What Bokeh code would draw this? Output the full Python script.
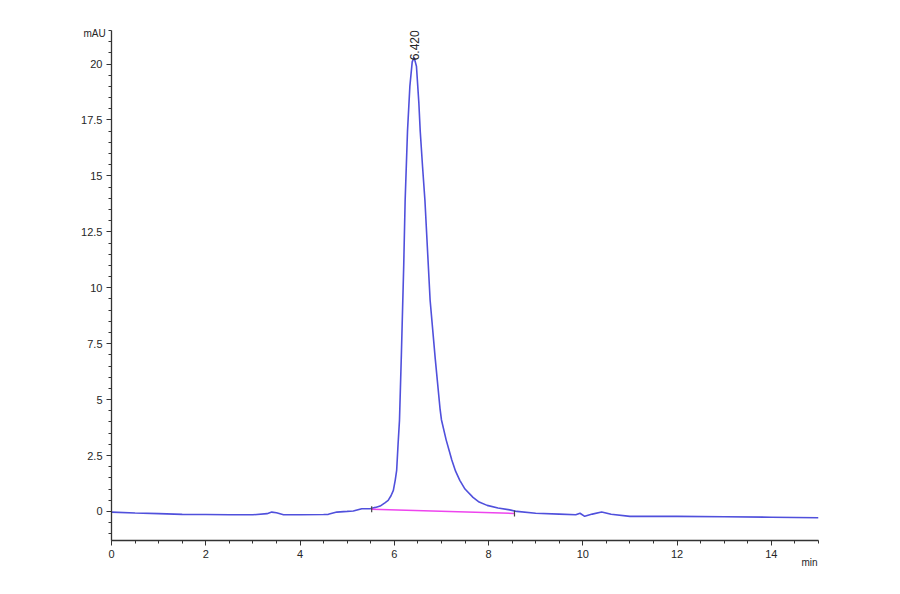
import math
from bokeh.plotting import figure
from bokeh.models import FixedTicker, Label, ColumnDataSource, Title
from bokeh.embed import file_html
from bokeh.resources import INLINE

# ---- data ----
time_min = [0.0, 0.5, 1.0, 1.5, 2.0, 2.5, 3.0, 3.3, 3.4, 3.5, 3.65, 4.0, 4.5, 4.6,
            4.78, 5.0, 5.13, 5.31, 5.49, 5.6, 5.7, 5.8, 5.87, 5.93, 5.98, 6.02,
            6.05, 6.08, 6.11, 6.15, 6.2, 6.23, 6.28, 6.33, 6.38, 6.42, 6.47, 6.52,
            6.55, 6.6, 6.65, 6.76, 6.87, 6.97, 7.0, 7.1, 7.18, 7.22, 7.3, 7.39,
            7.5, 7.67, 7.8, 7.97, 8.2, 8.45, 8.6, 9.0, 9.5, 9.85, 9.94, 10.04,
            10.2, 10.4, 10.6, 11.0, 12.0, 13.0, 14.0, 15.0]
signal_mau = [-0.03, -0.07, -0.10, -0.13, -0.14, -0.15, -0.15, -0.10, -0.03, -0.06, -0.15, -0.15, -0.14, -0.13,
              -0.03, 0.0, 0.02, 0.12, 0.12, 0.18, 0.24, 0.38, 0.49, 0.7, 0.94, 1.4,
              1.83, 3.0, 4.07, 7.0, 11.0, 13.9, 17.0, 19.0, 20.1, 20.3, 19.9, 18.3,
              17.0, 15.4, 13.9, 9.44, 6.8, 4.6, 4.1, 3.2, 2.6, 2.3, 1.8, 1.39,
              1.0, 0.63, 0.42, 0.27, 0.15, 0.07, 0.0, -0.08, -0.12, -0.15, -0.08, -0.22,
              -0.12, -0.03, -0.13, -0.22, -0.22, -0.24, -0.26, -0.28]

baseline_t = [5.52, 8.55]
baseline_v = [0.10, -0.09]

peak_t = [6.42]
peak_v = [20.3]
peak_text = ["6.420"]

x_ticks = [0, 2, 4, 6, 8, 10, 12, 14]
x_tick_labels = ["0", "2", "4", "6", "8", "10", "12", "14"]
y_ticks = [0, 2.5, 5, 7.5, 10, 12.5, 15, 17.5, 20]
y_tick_labels = ["0", "2.5", "5", "7.5", "10", "12.5", "15", "17.5", "20"]
x_minor = [i * 0.5 for i in range(0, 31)]
y_minor = [-1.0 + i * 0.5 for i in range(0, 46)]

y_unit = "mAU"
x_unit = "min"

FONT = "Liberation Sans"
TXT = "#262626"
W, H = 884, 578

p = figure(width=W, height=H, x_range=(0, 15), y_range=(-1.3, 21.5),
           output_backend="svg", toolbar_location=None,
           min_border_left=111, min_border_right=66, min_border_top=30, min_border_bottom=38)
p.outline_line_color = None
p.grid.visible = False
p.background_fill_color = "white"

for ax, ticks, minor, labels in ((p.xaxis[0], x_ticks, x_minor, x_tick_labels),
                                 (p.yaxis[0], y_ticks, y_minor, y_tick_labels)):
    ax.ticker = FixedTicker(ticks=ticks, minor_ticks=minor)
    ax.major_label_overrides = {t: l for t, l in zip(ticks, labels)}
    ax.axis_line_color = "#333333"
    ax.axis_line_width = 1.3
    ax.major_tick_line_color = "#333333"
    ax.minor_tick_line_color = "#333333"
    ax.major_tick_out = 5
    ax.major_tick_in = 0
    ax.minor_tick_out = 3
    ax.minor_tick_in = 0
    ax.major_label_text_font = FONT
    ax.major_label_text_font_size = "11px"
    ax.major_label_text_color = TXT

p.xaxis.major_label_standoff = 4
p.yaxis.major_label_standoff = 4

src = ColumnDataSource(dict(t=time_min, v=signal_mau))
p.line("t", "v", source=src, line_color="#5050dc", line_width=1.6)

p.line(baseline_t, baseline_v, line_color="#ee44ee", line_width=1.6)
p.scatter(baseline_t, baseline_v, marker="dash", angle=math.pi / 2, size=6,
          line_color="#444444", line_width=1.2)

p.add_layout(Label(x=peak_t[0], y=peak_v[0], text=peak_text[0], angle=math.pi / 2,
                   text_align="left", text_baseline="middle", y_offset=-3,
                   text_font=FONT, text_font_size="12px", text_color=TXT))

# unit labels as titles (outside the frame)
p.add_layout(Title(text=y_unit, align="left", text_font=FONT, text_font_size="10px",
                   text_color=TXT, text_font_style="normal", standoff=-17, offset=-28), "above")
p.add_layout(Title(text=x_unit, align="right", text_font=FONT, text_font_size="10px",
                   text_color=TXT, text_font_style="normal", standoff=-14, offset=1), "below")

open("out.html", "w").write(file_html(p, INLINE))
